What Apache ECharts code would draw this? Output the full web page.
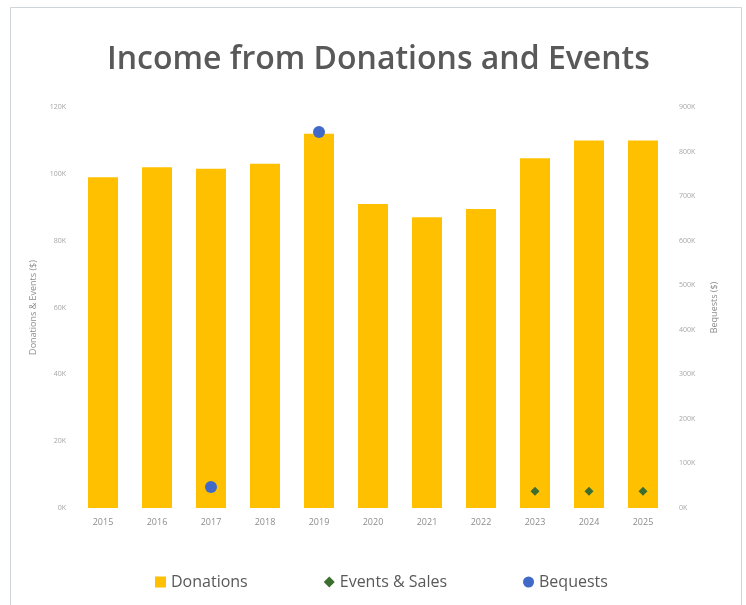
<!DOCTYPE html>
<html>
<head>
<meta charset="utf-8">
<script src="https://cdn.jsdelivr.net/npm/echarts@6/dist/echarts.min.js"></script>
<style>
html,body{margin:0;padding:0;background:#fff;}
#chart{width:746px;height:605px;}
</style>
</head>
<body>
<div id="chart"></div>
<script>
const years = ['2015','2016','2017','2018','2019','2020','2021','2022','2023','2024','2025'];
const donations = [99000, 102000, 101500, 103000, 112000, 91000, 87000, 89500, 104700, 110000, 110000];
const eventsSales = [null, null, null, null, null, null, null, null, 5000, 5000, 5000];
const bequests = [null, null, 47000, null, 844000, null, null, null, null, null, null];
const leftTicks = [0, 20000, 40000, 60000, 80000, 100000, 120000];
const rightTicks = [0, 100000, 200000, 300000, 400000, 500000, 600000, 700000, 800000, 900000];

const chart = echarts.init(document.getElementById('chart'));
const fmtK = v => (v / 1000) + 'K';
chart.setOption({
  animation: false,
  backgroundColor: '#fff',
  graphic: [{
    type: 'rect', left: 8, top: 5, silent: true,
    shape: { x: 0, y: 0, width: 731, height: 640 },
    style: { fill: 'none', stroke: '#cfd3da', lineWidth: 1 }
  }],
  title: {
    text: 'Income from Donations and Events',
    left: 102, top: 39,
    textStyle: { fontFamily: 'Open Sans', fontSize: 32, fontWeight: 600, color: '#595959' }
  },
  legend: {
    bottom: 10, left: 150, itemGap: 76, itemWidth: 11, itemHeight: 11,
    textStyle: { fontFamily: 'Open Sans', fontSize: 16, color: '#595959' },
    data: [
      { name: 'Donations', icon: 'rect' },
      { name: 'Events & Sales', icon: 'diamond' },
      { name: 'Bequests', icon: 'circle' }
    ]
  },
  grid: { left: 76, right: 76, top: 107, bottom: 97 },
  xAxis: {
    type: 'category', data: years,
    axisLine: { show: false }, axisTick: { show: false },
    axisLabel: { color: '#8c8c8c', fontSize: 9, fontFamily: 'Open Sans', margin: 10 }
  },
  yAxis: [{
    type: 'value', min: 0, max: leftTicks[leftTicks.length - 1], interval: 20000,
    name: 'Donations & Events ($)', nameLocation: 'middle', nameGap: 38, nameRotate: 90,
    nameTextStyle: { color: '#8c8c8c', fontSize: 9, fontFamily: 'Open Sans' },
    axisLabel: { color: '#a6a6a6', fontSize: 7, fontFamily: 'Open Sans', formatter: fmtK, margin: 10 },
    axisLine: { show: false }, axisTick: { show: false },
    splitLine: { show: false }
  }, {
    type: 'value', min: 0, max: rightTicks[rightTicks.length - 1], interval: 100000,
    name: 'Bequests ($)', nameLocation: 'middle', nameGap: 40, nameRotate: 90,
    nameTextStyle: { color: '#8c8c8c', fontSize: 9, fontFamily: 'Open Sans' },
    axisLabel: { color: '#a6a6a6', fontSize: 7, fontFamily: 'Open Sans', formatter: fmtK, margin: 9 },
    axisLine: { show: false }, axisTick: { show: false },
    splitLine: { show: false }
  }],
  series: [{
    name: 'Donations', type: 'bar', data: donations, yAxisIndex: 0,
    barWidth: 30, itemStyle: { color: '#FFC000' }
  }, {
    name: 'Events & Sales', type: 'scatter', data: eventsSales, yAxisIndex: 0,
    symbol: 'diamond', symbolSize: 9, itemStyle: { color: '#3b6e2f', opacity: 1 }
  }, {
    name: 'Bequests', type: 'scatter', data: bequests, yAxisIndex: 1,
    symbol: 'circle', symbolSize: 12, itemStyle: { color: '#4169c8', opacity: 1 }
  }]
});
</script>
</body>
</html>
